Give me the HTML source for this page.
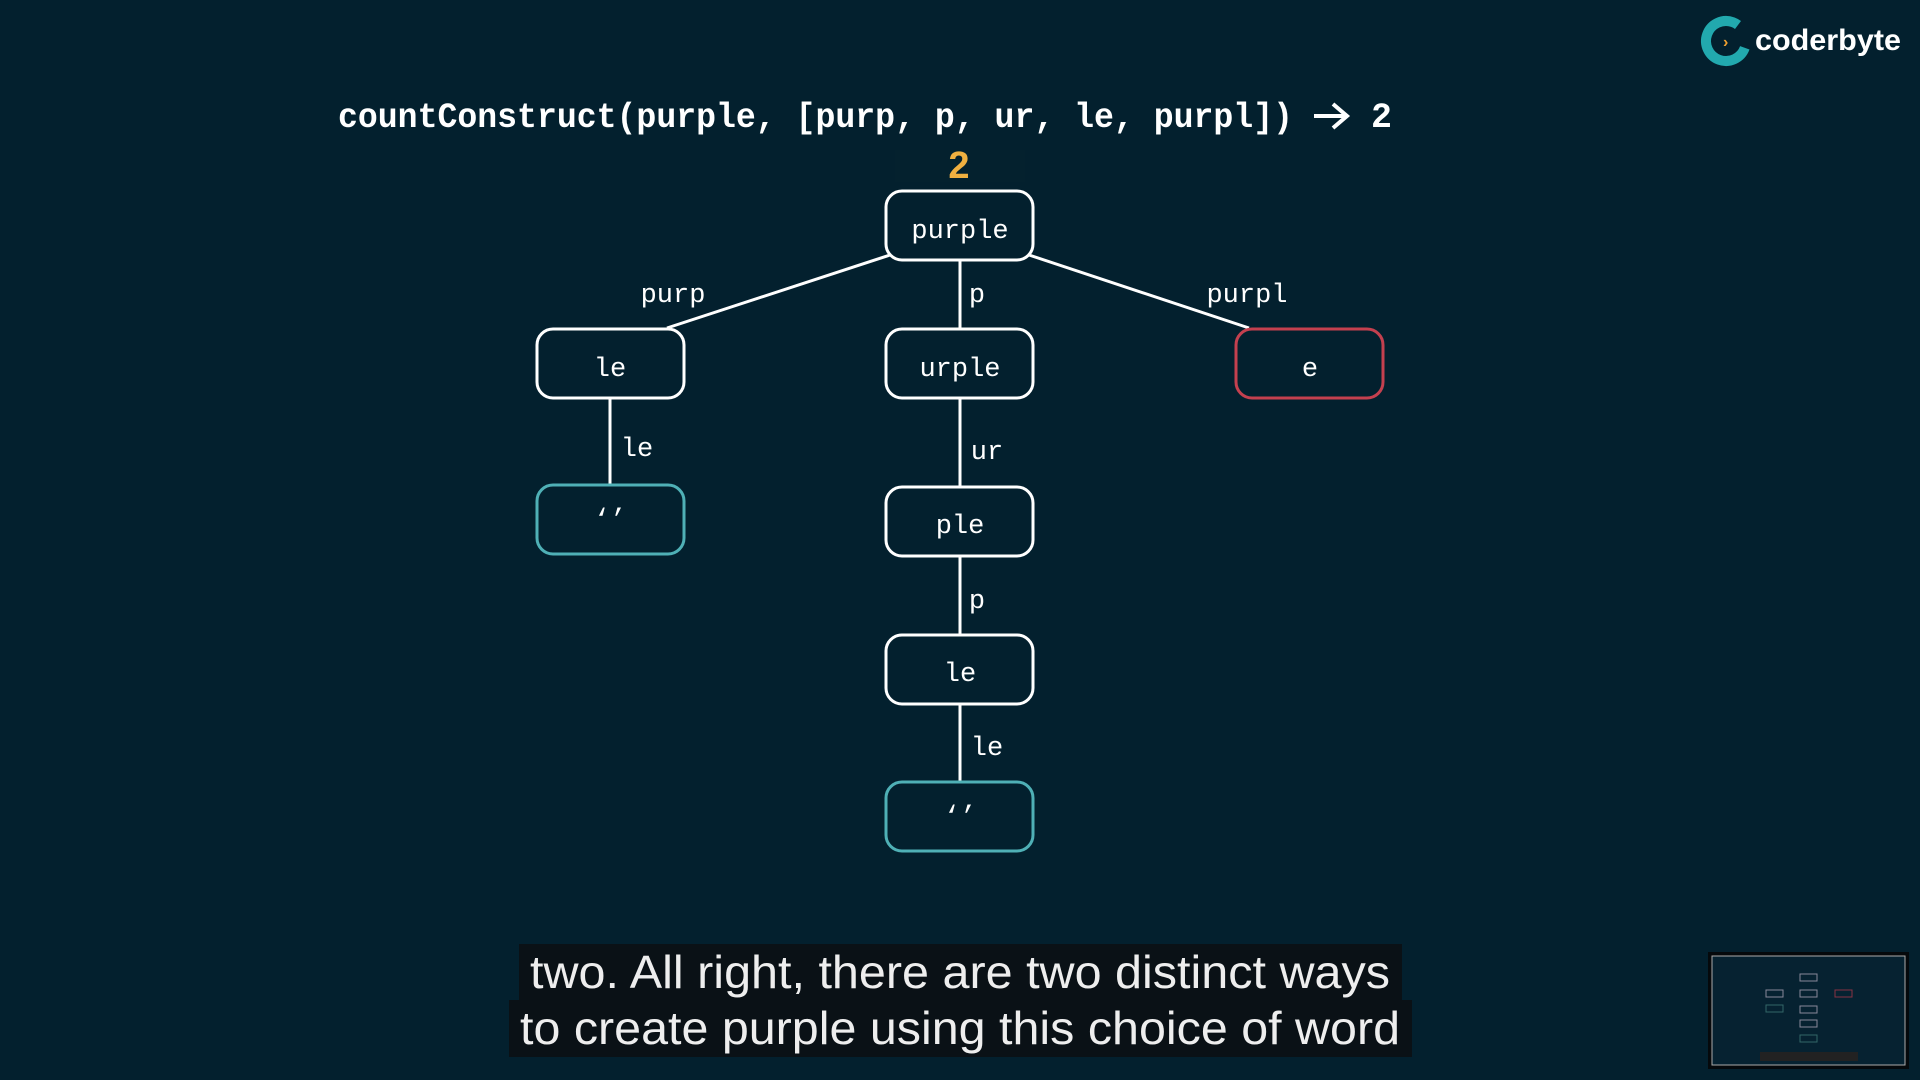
<!DOCTYPE html>
<html><head><meta charset="utf-8"><style>
html,body{margin:0;padding:0;background:#03202e;width:1920px;height:1080px;overflow:hidden}
</style></head><body>
<svg width="1920" height="1080" viewBox="0 0 1920 1080" xmlns="http://www.w3.org/2000/svg">
<rect width="1920" height="1080" fill="#03202e"/>
<!-- logo -->
<circle cx="1726" cy="41" r="20" fill="none" stroke="#22a9ae" stroke-width="10" stroke-dasharray="100 26" transform="rotate(20 1726 41)"/>
<text x="1723" y="47" font-family="Liberation Sans, sans-serif" font-size="16" font-weight="bold" fill="#f0a030">›</text>
<text x="1755" y="50" font-family="Liberation Sans, sans-serif" font-size="30" font-weight="bold" fill="#fff" textLength="146" lengthAdjust="spacingAndGlyphs">coderbyte</text>
<!-- title -->
<text x="338" y="127" font-family="Liberation Mono, monospace" font-size="35" font-weight="bold" fill="#fff" textLength="955" lengthAdjust="spacingAndGlyphs">countConstruct(purple, [purp, p, ur, le, purpl])</text>
<path d="M1314 116 H1346 M1333 104 L1347 116 L1333 128" stroke="#fff" stroke-width="4" fill="none"/>
<text x="1371" y="127" font-family="Liberation Mono, monospace" font-size="35" font-weight="bold" fill="#fff">2</text>
<rect x="895" y="150" width="130" height="32" fill="#05232f" opacity="0.6"/>
<text x="959" y="178" text-anchor="middle" font-family="Liberation Sans, sans-serif" font-size="38" font-weight="bold" fill="#f0b040">2</text>
<!-- edges -->
<g stroke="#fff" stroke-width="3">
<line x1="890" y1="255" x2="667" y2="328"/>
<line x1="1029" y1="255" x2="1249" y2="328"/>
<line x1="960" y1="261" x2="960" y2="328"/>
<line x1="610" y1="399" x2="610" y2="484"/>
<line x1="960" y1="399" x2="960" y2="486"/>
<line x1="960" y1="557" x2="960" y2="634"/>
<line x1="960" y1="705" x2="960" y2="781"/>
</g>
<!-- nodes -->
<g fill="#03202e" stroke-width="3">
<rect x="886" y="191" width="147" height="69" rx="16" stroke="#fff"/>
<rect x="537" y="329" width="147" height="69" rx="16" stroke="#fff"/>
<rect x="886" y="329" width="147" height="69" rx="16" stroke="#fff"/>
<rect x="1236" y="329" width="147" height="69" rx="16" stroke="#c4404f"/>
<rect x="537" y="485" width="147" height="69" rx="16" stroke="#4fb0b6"/>
<rect x="886" y="487" width="147" height="69" rx="16" stroke="#fff"/>
<rect x="886" y="635" width="147" height="69" rx="16" stroke="#fff"/>
<rect x="886" y="782" width="147" height="69" rx="16" stroke="#4fb0b6"/>
</g>
<g font-family="Liberation Mono, monospace" font-size="27" fill="#fff" text-anchor="middle">
<text x="960" y="238">purple</text>
<text x="610" y="376">le</text>
<text x="960" y="376">urple</text>
<text x="1310" y="376">e</text>
<text x="610" y="527">‘’</text>
<text x="960" y="533">ple</text>
<text x="960" y="681">le</text>
<text x="960" y="824">‘’</text>
<text x="673" y="302">purp</text>
<text x="977" y="302">p</text>
<text x="1247" y="302">purpl</text>
<text x="637" y="456">le</text>
<text x="987" y="459">ur</text>
<text x="977" y="608">p</text>
<text x="987" y="755">le</text>
</g>
<!-- subtitles -->
<rect x="519" y="944" width="883" height="57" fill="#0a1116"/>
<rect x="509" y="1000" width="903" height="57" fill="#0a1116"/>
<g font-family="Liberation Sans, sans-serif" font-size="46" fill="#eee" text-anchor="middle">
<text x="960" y="988" textLength="860" lengthAdjust="spacingAndGlyphs">two. All right, there are two distinct ways</text>
<text x="960" y="1044" textLength="880" lengthAdjust="spacingAndGlyphs">to create purple using this choice of word</text>
</g>
<!-- thumbnail -->
<rect x="1708" y="952" width="201" height="117" fill="#05090c"/>
<rect x="1712" y="956" width="193" height="109" fill="#062231" stroke="#aaa" stroke-width="1"/>
<g stroke="#889" stroke-width="1" fill="none">
<rect x="1800" y="974" width="17" height="7"/><rect x="1766" y="990" width="17" height="7"/><rect x="1800" y="990" width="17" height="7"/><rect x="1835" y="990" width="17" height="7" stroke="#834"/>
<rect x="1766" y="1005" width="17" height="7" stroke="#366"/><rect x="1800" y="1006" width="17" height="7"/><rect x="1800" y="1020" width="17" height="7"/><rect x="1800" y="1035" width="17" height="7" stroke="#366"/>
</g>
<rect x="1760" y="1052" width="98" height="9" fill="#222"/>
</svg>
</body></html>
